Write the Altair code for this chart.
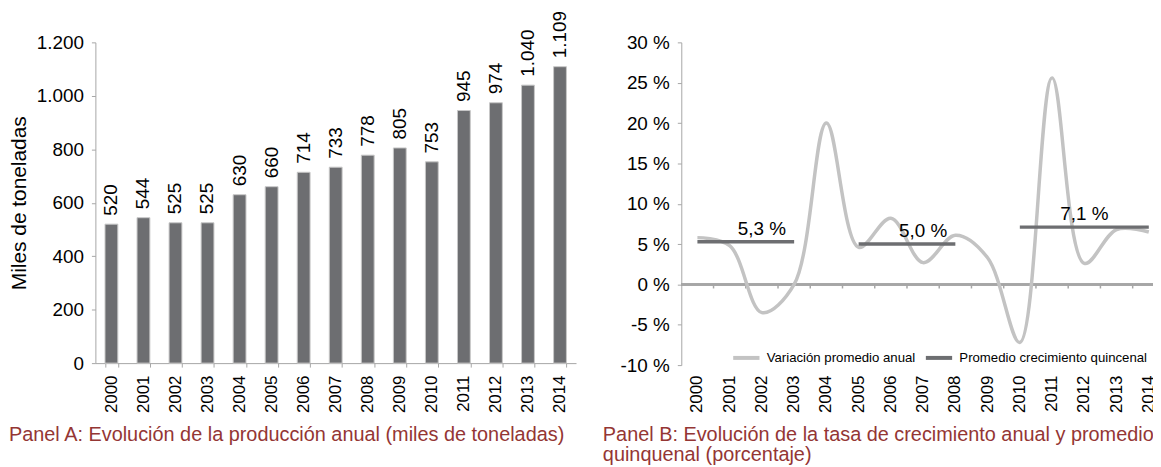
import altair as alt
import pandas as pd

years = [str(y) for y in range(2000, 2015)]
production = [520, 544, 525, 525, 630, 660, 714, 733, 778, 805, 753, 945, 974, 1040, 1109]
production_labels = ["520", "544", "525", "525", "630", "660", "714", "733", "778", "805",
                     "753", "945", "974", "1.040", "1.109"]
growth = [5.8, 4.8, -3.5, 0.0, 20.0, 4.6, 8.2, 2.7, 6.1, 3.3, -7.2, 25.6, 2.6, 6.8, 6.5]
avg_start = ["2000", "2005", "2010"]
avg_end = ["2003", "2008", "2014"]
avg_value = [5.3, 5.0, 7.1]
avg_label = ["5,3 %", "5,0 %", "7,1 %"]
avg_label_year = ["2002", "2007", "2012"]
series_names = ["Variación promedio anual", "Promedio crecimiento quincenal"]

FONT = "Liberation Sans"
AXIS_GRAY = "#a6a6a6"
BAR = "#6d6e71"
LIGHT = "#c3c3c3"
CAPTION = "#943634"
FS = 19
FSX = 17

dfA = pd.DataFrame({"year": years, "prod": production, "label": production_labels})
dfB = pd.DataFrame({"year": years, "growth": growth, "series": series_names[0]})
dfAvg = pd.DataFrame({"start": avg_start, "end": avg_end, "value": avg_value,
                      "series": series_names[1]})
dfAvgLab = pd.DataFrame({"year": avg_label_year, "value": avg_value, "label": avg_label})
dfTicks = pd.DataFrame({"year": years[1:]})

WA, HA = 484, 323
WB, HB = 487, 325

xA = alt.X("year:N", title=None, sort=years,
           scale=alt.Scale(domain=years, paddingInner=0.6, paddingOuter=0.3),
           axis=alt.Axis(labelAngle=270, labelFontSize=FSX, labelColor="black",
                         labelPadding=8, tickSize=4, tickColor=AXIS_GRAY,
                         domainColor=AXIS_GRAY, tickBand="extent", grid=False))
yA = alt.Y("prod:Q", title="Miles de toneladas",
           scale=alt.Scale(domain=[0, 1200], nice=False),
           axis=alt.Axis(values=[0, 200, 400, 600, 800, 1000, 1200],
                         labelExpr="replace(format(datum.value, ','), ',', '.')",
                         labelFontSize=FS, labelColor="black", labelPadding=8,
                         tickSize=4, tickColor=AXIS_GRAY, domainColor=AXIS_GRAY,
                         titleFontSize=21, titleFontWeight="normal", titleColor="black",
                         titlePadding=7, grid=False))

bars = alt.Chart(dfA).mark_bar(color=BAR, stroke="#c8c8c8", strokeWidth=1).encode(x=xA, y=yA)
barText = alt.Chart(dfA).mark_text(angle=270, align="left", baseline="middle", dx=8.5,
                                   fontSize=FS, color="black", font=FONT).encode(
    x=alt.X("year:N", sort=years), y="prod:Q", text="label:N")

panelA = alt.layer(bars, barText).properties(
    width=WA, height=HA,
    title=alt.TitleParams("Panel A: Evolución de la producción anual (miles de toneladas)",
                          orient="bottom", anchor="start", frame="group", dx=-87,
                          offset=13, fontSize=20, fontWeight="normal", color=CAPTION,
                          font=FONT))

xB = alt.X("year:N", title=None, sort=years,
           scale=alt.Scale(domain=years, paddingInner=0, paddingOuter=0),
           axis=alt.Axis(labelAngle=270, labelFontSize=FSX, labelColor="black",
                         labelPadding=10, ticks=False, domain=False, grid=False))
yB = alt.Y("growth:Q", title=None, scale=alt.Scale(domain=[-10, 30], nice=False),
           axis=alt.Axis(values=[-10, -5, 0, 5, 10, 15, 20, 25, 30],
                         labelExpr="datum.value + ' %'", labelFontSize=FS,
                         labelColor="black", labelPadding=8, tickSize=4,
                         tickColor=AXIS_GRAY, domainColor=AXIS_GRAY, grid=False))

colorScale = alt.Scale(domain=series_names, range=[LIGHT, BAR])
legend = alt.Legend(title=None, orient="none", legendX=50, legendY=302,
                    direction="horizontal", symbolType="stroke", symbolStrokeWidth=4,
                    symbolSize=700, labelFontSize=13.3, labelColor="black", labelFont=FONT,
                    columnPadding=2, labelOffset=5, labelLimit=400)

zeroLine = alt.Chart(dfTicks).mark_rule(color=AXIS_GRAY, strokeWidth=1.5).encode(
    y=alt.datum(0), x=alt.value(0), x2=alt.value(WB))
zeroTicks = alt.Chart(dfTicks).mark_rule(color=AXIS_GRAY, strokeWidth=1.5).encode(
    x=alt.X("year:N", bandPosition=0, sort=years), y=alt.datum(0), y2=alt.datum(-0.5))
line = alt.Chart(dfB).mark_line(interpolate="catmull-rom", strokeWidth=3.5).encode(
    x=xB, y=yB, color=alt.Color("series:N", scale=colorScale, legend=legend))
avgLines = alt.Chart(dfAvg).mark_rule(strokeWidth=3.5).encode(
    x=alt.X("start:N", sort=years), x2="end:N", y="value:Q",
    color=alt.Color("series:N", scale=colorScale, legend=legend))
avgText = alt.Chart(dfAvgLab).mark_text(baseline="bottom", dy=-3, fontSize=FS,
                                        color="black", font=FONT).encode(
    x=alt.X("year:N", sort=years), y="value:Q", text="label:N")

panelB = alt.layer(zeroLine, zeroTicks, line, avgLines, avgText).properties(
    width=WB, height=HB,
    title=alt.TitleParams(["Panel B: Evolución de la tasa de crecimiento anual y promedio",
                           "quinquenal (porcentaje)"],
                          orient="bottom", anchor="start", frame="group", dx=-79,
                          offset=13, fontSize=20, fontWeight="normal", color=CAPTION,
                          font=FONT, lineHeight=20))

PAD_L, PAD_T = 88, 33
SVG_W, SVG_H = 1153, 459

chart = alt.hconcat(panelA, panelB, spacing=106, bounds="flush").resolve_legend(
    color="independent"
).properties(
    autosize=alt.AutoSizeParams(type="none"),
    padding={"left": PAD_L, "top": PAD_T, "right": SVG_W - PAD_L, "bottom": SVG_H - PAD_T}
).configure(font=FONT).configure_view(stroke=None).configure_axis(labelFont=FONT, titleFont=FONT)

chart.save("out.html", embed_options={"renderer": "svg", "actions": False})
